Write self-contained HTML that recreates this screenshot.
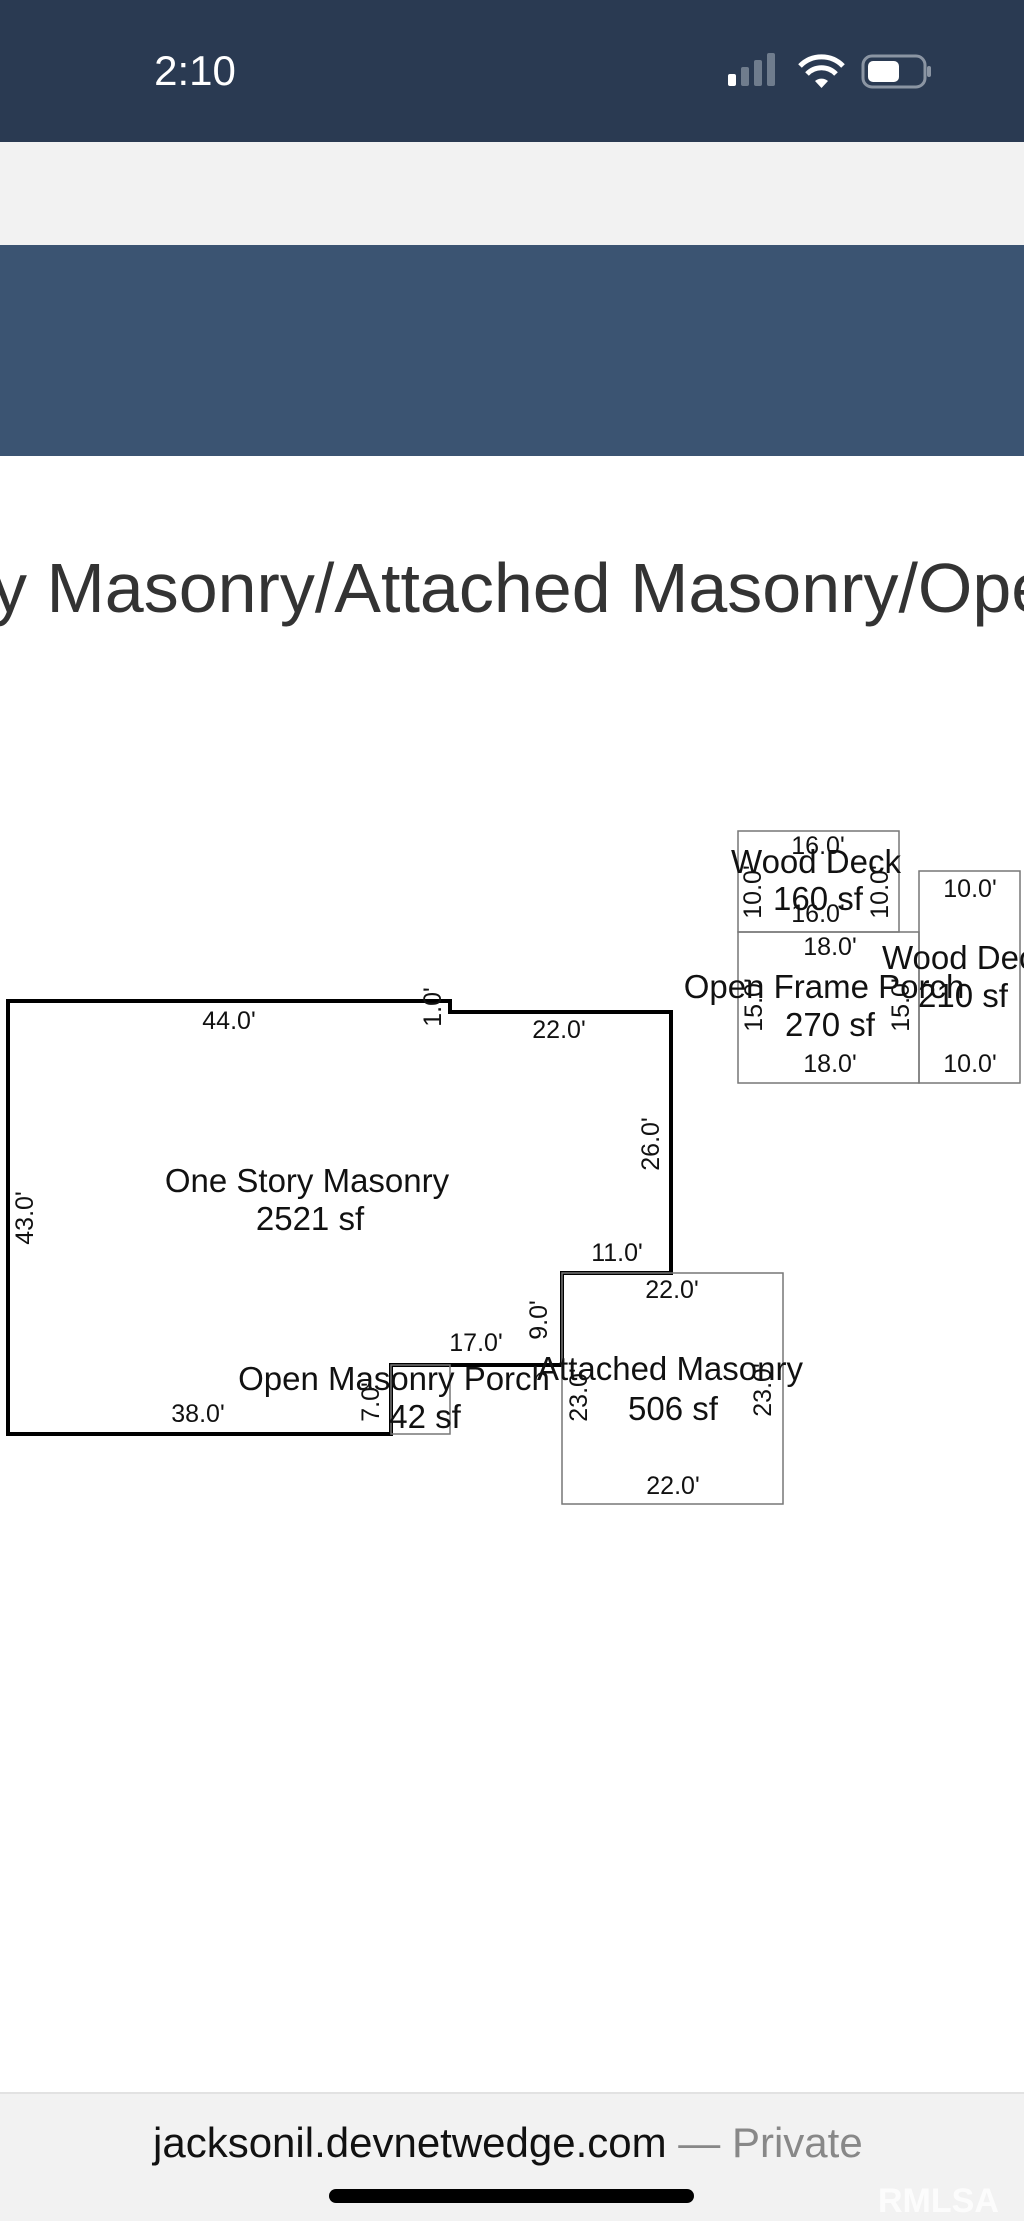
<!DOCTYPE html>
<html><head><meta charset="utf-8"><style>
html,body{margin:0;padding:0;background:#fff;}
svg{display:block;}
text{font-family:"Liberation Sans",sans-serif;}
</style></head><body>
<svg width="1024" height="2221" viewBox="0 0 1024 2221" xmlns="http://www.w3.org/2000/svg">
<rect x="0" y="0" width="1024" height="142" fill="#2a3a52"/>
<text x="195" y="85" font-size="42" fill="#fff" text-anchor="middle">2:10</text>
<rect x="728" y="74" width="8" height="12" rx="2" fill="#fff"/>
<rect x="741" y="67" width="8" height="19" rx="2" fill="#6f7c8d"/>
<rect x="754" y="60" width="8" height="26" rx="2" fill="#6f7c8d"/>
<rect x="767" y="53" width="8" height="33" rx="2" fill="#6f7c8d"/>
<path d="M800 66 A30 30 0 0 1 843 66" stroke="#fff" stroke-width="5" fill="none"/>
<path d="M807 74 A20 20 0 0 1 836 74" stroke="#fff" stroke-width="5" fill="none"/>
<path d="M815 81 L821.5 88 L828 81 A10 10 0 0 0 815 81Z" fill="#fff"/>
<rect x="863" y="56" width="62" height="31" rx="9" fill="none" stroke="#8b95a3" stroke-width="3"/>
<rect x="868" y="61" width="31" height="21" rx="5" fill="#fff"/>
<rect x="927" y="66" width="4" height="11" rx="2" fill="#8b95a3"/>
<rect x="0" y="142" width="1024" height="103" fill="#f2f2f2"/>
<rect x="0" y="245" width="1024" height="211" fill="#3b5472"/>
<text x="-8" y="612" font-size="70" fill="#333">y Masonry/Attached Masonry/Open Frame</text>
<polygon points="8,1001 450,1001 450,1012 671,1012 671,1273 562,1273 562,1365 391,1365 391,1434 8,1434" fill="none" stroke="#000" stroke-width="4"/>
<g fill="none" stroke="#777" stroke-width="1.5">
<rect x="391" y="1365" width="59" height="69"/>
<rect x="562" y="1273" width="221" height="231"/>
<rect x="738" y="831" width="161" height="101"/>
<rect x="738" y="932" width="181" height="151"/>
<rect x="919" y="871" width="101" height="212"/>
</g>
<g font-size="25" fill="#111" text-anchor="middle">
<text x="229" y="1029">44.0'</text>
<text x="559" y="1038">22.0'</text>
<text x="617" y="1261">11.0'</text>
<text x="672" y="1298">22.0'</text>
<text x="476" y="1351">17.0'</text>
<text x="198" y="1422">38.0'</text>
<text x="673" y="1494">22.0'</text>
<text x="818" y="854">16.0'</text>
<text x="818" y="922">16.0'</text>
<text x="830" y="955">18.0'</text>
<text x="830" y="1072">18.0'</text>
<text x="970" y="897">10.0'</text>
<text x="970" y="1072">10.0'</text>
<text transform="translate(441,1007) rotate(-90)">1.0'</text>
<text transform="translate(659,1144) rotate(-90)">26.0'</text>
<text transform="translate(33,1218) rotate(-90)">43.0'</text>
<text transform="translate(547,1320) rotate(-90)">9.0'</text>
<text transform="translate(379,1402) rotate(-90)">7.0'</text>
<text transform="translate(587,1395) rotate(-90)">23.0'</text>
<text transform="translate(771,1390) rotate(-90)">23.0'</text>
<text transform="translate(761,892) rotate(-90)">10.0'</text>
<text transform="translate(888,892) rotate(-90)">10.0'</text>
<text transform="translate(762,1005) rotate(-90)">15.0'</text>
<text transform="translate(909,1005) rotate(-90)">15.0'</text>
</g>
<g font-size="33" fill="#111" text-anchor="middle">
<text x="307" y="1192">One Story Masonry</text>
<text x="310" y="1230">2521 sf</text>
<text x="394" y="1390">Open Masonry Porch</text>
<text x="670" y="1380">Attached Masonry</text>
<text x="673" y="1420">506 sf</text>
<text x="425" y="1428">42 sf</text>
<text x="816" y="873">Wood Deck</text>
<text x="818" y="910">160 sf</text>
<text x="824" y="998">Open Frame Porch</text>
<text x="830" y="1036">270 sf</text>
<text x="963" y="1007">210 sf</text>
<text x="882" y="969" text-anchor="start">Wood Deck</text>
</g>
<rect x="0" y="2093" width="1024" height="128" fill="#f2f2f2"/>
<rect x="0" y="2092" width="1024" height="2" fill="#e2e2e2"/>
<text x="153" y="2157" font-size="42" fill="#111">jacksonil.devnetwedge.com <tspan fill="#888">— Private</tspan></text>
<rect x="329" y="2189" width="365" height="14" rx="7" fill="#000"/>
<text x="878" y="2212" font-size="34" font-weight="bold" fill="#fff" opacity="0.8">RMLSA</text>
</svg>
</body></html>
